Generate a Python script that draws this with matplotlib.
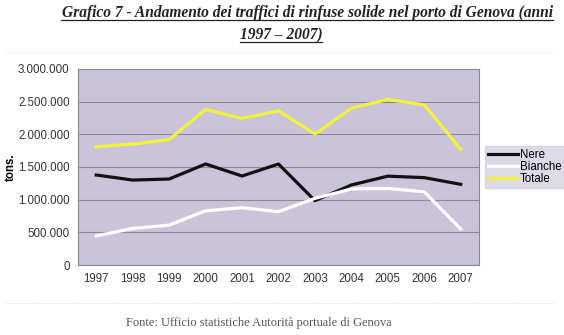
import matplotlib
matplotlib.use("Agg")
import matplotlib.pyplot as plt
from matplotlib.lines import Line2D
from matplotlib.ticker import FuncFormatter, MultipleLocator

years = ["1997", "1998", "1999", "2000", "2001", "2002", "2003", "2004", "2005", "2006", "2007"]
nere = [1378000, 1300000, 1316000, 1546000, 1362000, 1546000, 985000, 1225000, 1360000, 1337000, 1235000]
bianche = [444000, 560000, 610000, 830000, 877000, 816000, 1020000, 1163000, 1173000, 1120000, 550000]
totale = [1810000, 1850000, 1920000, 2380000, 2245000, 2360000, 2005000, 2400000, 2535000, 2450000, 1770000]

title1 = "Grafico 7 - Andamento dei traffici di rinfuse solide nel porto di Genova (anni"
title2 = "1997 \u2013 2007)"
source = "Fonte: Ufficio statistiche Autorit\u00e0 portuale di Genova"

plt.rcParams["font.family"] = ["Liberation Sans", "DejaVu Sans"]

fig = plt.figure(figsize=(5.64, 3.35), dpi=100)
fig.patch.set_facecolor("white")
ax = fig.add_axes([78 / 564, 1 - 265 / 335, 401 / 564, 196 / 335])
ax.set_facecolor("#cbc3da")

x = range(len(years))
ax.plot(x, nere, color="#111111", lw=2.3, label="Nere", zorder=3)
ax.plot(x, bianche, color="white", lw=2.3, label="Bianche", zorder=3)
ax.plot(x, totale, color="#f2f23a", lw=2.3, label="Totale", zorder=3)

ax.set_xlim(-0.5, len(years) - 0.5)
ax.set_xticks(list(x))
ax.set_xticklabels(years)
ax.set_ylim(0, 3000000)
ax.yaxis.set_major_locator(MultipleLocator(500000))
ax.yaxis.set_major_formatter(FuncFormatter(lambda v, p: "{:,}".format(int(v)).replace(",", ".")))
ax.grid(axis="y", color="#8f8a98", lw=0.8)
ax.set_axisbelow(True)
ax.tick_params(length=0, labelsize=8.3, colors="#333333", pad=6)
for s in ax.spines.values():
    s.set_color("#8a8690")
    s.set_linewidth(0.8)
ax.set_ylabel("tons.", fontsize=8.3, fontweight="bold")
ax.yaxis.set_label_coords(-0.152, 0.5)

leg = ax.legend(loc="center left", bbox_to_anchor=(1.015, 0.5), fontsize=8.3,
                frameon=True, fancybox=False, handlelength=2.6, handletextpad=0.1,
                labelspacing=0.0, borderpad=0.3, borderaxespad=0)
leg.get_frame().set_facecolor("#d6d0e2")
leg.get_frame().set_edgecolor("#d6d0e2")

t1 = fig.text(307 / 564, 1 - 13 / 335, title1, ha="center", va="center",
              family="Liberation Serif", style="italic", fontweight="bold", fontsize=11.2, color="#222222")
t2 = fig.text(281 / 564, 1 - 35 / 335, title2, ha="center", va="center",
              family="Liberation Serif", style="italic", fontweight="bold", fontsize=11.2, color="#222222")
fig.text(259 / 564, 1 - 323 / 335, source, ha="center", va="center",
         family="Liberation Serif", fontsize=8.9, color="#555555")

# faint dotted separators
for yy in (52, 303):
    fig.add_artist(Line2D([5 / 564, 555 / 564], [1 - yy / 335] * 2, color="#cccccc",
                          lw=0.6, ls=(0, (1, 2))))

# underline the title lines
fig.canvas.draw()
r = fig.canvas.get_renderer()
for t in (t1, t2):
    bb = t.get_window_extent(r).transformed(fig.transFigure.inverted())
    fig.add_artist(Line2D([bb.x0, bb.x1], [bb.y0 + 0.004] * 2, color="#222222", lw=0.9))

fig.savefig("out.png", dpi=100)
